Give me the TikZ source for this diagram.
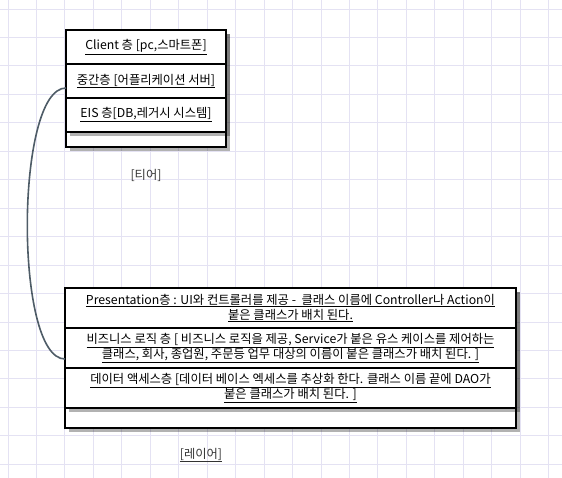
\documentclass[tikz,border=0pt]{standalone}
\usepackage{fontspec}
\setmainfont{Noto Sans CJK KR}
\usetikzlibrary{positioning,calc}
\definecolor{gridc}{HTML}{E4E2F3}
\definecolor{linkc}{HTML}{4E5C67}
\definecolor{capc}{HTML}{333333}
\newcommand{\ulin}[1]{\underline{#1}}
\pgfdeclarelayer{bg}
\pgfsetlayers{bg,main}

\begin{document}
\begin{tikzpicture}[x=1pt,y=-1pt,
  font=\fontsize{12.3}{15}\selectfont,
  row/.style={draw,line width=2pt,fill=white,outer sep=0pt,inner sep=0pt,align=center},
  foot/.style={draw,line width=2pt,outer sep=0pt,inner sep=0pt},
  shade/.style={fill=black,opacity=0.3},
  link/.style={draw=linkc,line width=1.6pt},
  caption/.style={text=capc}]

\useasboundingbox (0,0) rectangle (562,478);

% tiers
\node[row,minimum width=160pt,minimum height=34pt] (client) at (146,47) {\ulin{Client 층 [pc,스마트폰]}};
\node[row,minimum width=160pt,minimum height=34pt,below=0pt of client] (middle) {\ulin{중간층 [어플리케이션 서버]}};
\node[row,minimum width=160pt,minimum height=34pt,below=0pt of middle] (eis) {\ulin{EIS 층[DB,레거시 시스템]}};
\node[foot,minimum width=160pt,minimum height=15pt,below=0pt of eis] (tierfoot) {};

\node[caption] (tier) at (146,175) {[티어]};

% layers
\node[row,minimum width=451pt,minimum height=40pt] (pres) at (290.5,308) {\ulin{Presentation층 : UI와 컨트롤러를 제공 -\ \ 클래스 이름에 Controller나 Action이}\\ \ulin{붙은 클래스가 배치 된다.}};
\node[row,minimum width=451pt,minimum height=40pt,below=0pt of pres] (biz) {\ulin{비즈니스 로직 층 [ 비즈니스 로직을 제공, Service가 붙은 유스 케이스를 제어하는}\\ \ulin{클래스, 회사, 종업원, 주문등 업무 대상의 이름이 붙은 클래스가 배치 된다. ]}};
\node[row,minimum width=451pt,minimum height=40pt,below=0pt of biz] (data) {\ulin{데이터 액세스층 [데이터 베이스 엑세스를 추상화 한다. 클래스 이름 끝에 DAO가}\\ \ulin{붙은 클래스가 배치 된다. ]}};
\node[foot,minimum width=451pt,minimum height=20pt,below=0pt of data] (layerfoot) {};

\node[caption] (layer) at (201,455) {\ulin{[레이어]}};

\draw[link] ([yshift=-7pt]middle.west) to[out=180,in=180,looseness=0.48] ([yshift=-11pt]biz.west);

\begin{pgfonlayer}{bg}
\draw[gridc,line width=0.9pt,shift={(8,9)}] (-8,-9) grid (554,469);
% shadows
\fill[shade] ($(client.north west)+(4,4)$) rectangle ($(tierfoot.south east)+(4,4)$);
\fill[white] (tierfoot.north west) rectangle (tierfoot.south east);
\fill[shade] ($(client.north west)+(4,4)$) rectangle ($(eis.south east)+(4,4)$);
\fill[shade] ($(pres.north west)+(4,4)$) rectangle ($(layerfoot.south east)+(4,4)$);
\fill[white] (layerfoot.north west) rectangle (layerfoot.south east);
\fill[shade] ($(pres.north west)+(4,4)$) rectangle ($(data.south east)+(4,4)$);
\end{pgfonlayer}

\end{tikzpicture}
\end{document}
